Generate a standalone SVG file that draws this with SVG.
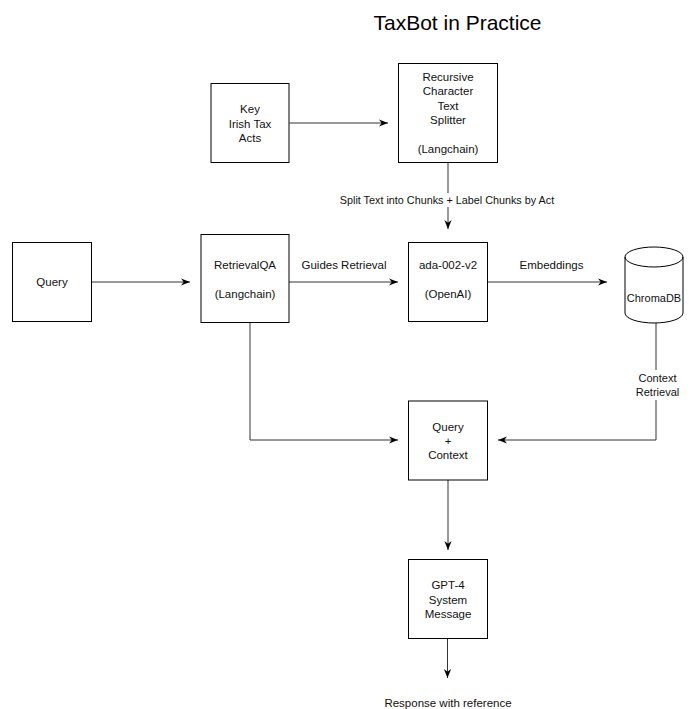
<svg xmlns="http://www.w3.org/2000/svg" width="693" height="709" viewBox="0 0 693 709">
  <defs>
    <marker id="arr" viewBox="0 0 10 10" refX="10" refY="5" markerWidth="9" markerHeight="9" markerUnits="userSpaceOnUse" orient="auto">
      <path d="M0,1 L10,5 L0,9 L3,5 z" fill="#000"/>
    </marker>
  </defs>
  <style>
    .box { fill: #fff; stroke: #000; stroke-width: 1; }
    .t { font-family: "Liberation Sans", Arial, sans-serif; font-size: 11.5px; fill: #111; text-anchor: middle; }
    .lbl { font-family: "Liberation Sans", Arial, sans-serif; font-size: 11px; fill: #111; text-anchor: middle; }
    .title { font-family: "Liberation Sans", Arial, sans-serif; font-size: 21px; fill: #000; text-anchor: middle; }
    .edge { fill: none; stroke: #333; stroke-width: 1; marker-end: url(#arr); }
  </style>
  <rect width="693" height="709" fill="#fff"/>
  <text class="title" x="457.5" y="30">TaxBot in Practice</text>

  <g id="connectors">
    <path class="edge" d="M289.5,123 L388,123"/>
    <path class="edge" d="M448,163 L448,229"/>
    <path class="edge" d="M92,282 L190,282"/>
    <path class="edge" d="M289,282 L398,282"/>
    <path class="edge" d="M487,282 L607,282"/>
    <path class="edge" d="M250,323 L250,440 L398,440"/>
    <path class="edge" d="M656,323 L656,440 L498,440"/>
    <path class="edge" d="M448,480 L448,550"/>
    <path class="edge" d="M447.5,639 L447.5,678"/>
    <rect x="337" y="193" width="220" height="14" fill="#fff"/>
    <text class="lbl" x="447" y="204" font-size="10.8" style="font-size:10.8px">Split Text into Chunks + Label Chunks by Act</text>
    <text class="t" x="344" y="269">Guides Retrieval</text>
    <text class="t" x="551.5" y="269">Embeddings</text>
    <rect x="632" y="370" width="52" height="30" fill="#fff"/>
    <text class="lbl" x="657.5" y="382">Context</text>
    <text class="lbl" x="657.5" y="395.5">Retrieval</text>
    <text class="t" x="448" y="707">Response with reference</text>
  </g>

  <g id="key-acts">
    <rect class="box" x="211" y="83.5" width="78" height="79"/>
    <text class="t" x="250" y="113">Key</text>
    <text class="t" x="250" y="127.5">Irish Tax</text>
    <text class="t" x="250" y="142">Acts</text>
  </g>

  <g id="splitter">
    <rect class="box" x="398.5" y="63.5" width="99" height="99"/>
    <text class="t" x="448" y="81">Recursive</text>
    <text class="t" x="448" y="95.4">Character</text>
    <text class="t" x="448" y="109.8">Text</text>
    <text class="t" x="448" y="124.2">Splitter</text>
    <text class="t" x="448" y="153">(Langchain)</text>
  </g>

  <g id="query">
    <rect class="box" x="12.5" y="242.5" width="79" height="79"/>
    <text class="t" x="52" y="286">Query</text>
  </g>

  <g id="retrievalqa">
    <rect class="box" x="201" y="234.5" width="88" height="88"/>
    <text class="t" x="245" y="269">RetrievalQA</text>
    <text class="t" x="245" y="298">(Langchain)</text>
  </g>

  <g id="ada">
    <rect class="box" x="408.5" y="242.5" width="79" height="79"/>
    <text class="t" x="448" y="269">ada-002-v2</text>
    <text class="t" x="448" y="298">(OpenAI)</text>
  </g>

  <g id="chromadb">
    <path class="box" d="M625,257 L625,313 A29,10 0 0 0 683,313 L683,257 A29,10 0 0 0 625,257 Z"/>
    <path d="M625,257 A29,10 0 0 0 683,257" fill="none" stroke="#000" stroke-width="1"/>
    <text class="lbl" x="654" y="302">ChromaDB</text>
  </g>

  <g id="query-context">
    <rect class="box" x="408.5" y="401" width="79" height="79"/>
    <text class="t" x="448" y="431">Query</text>
    <text class="t" x="448" y="445">+</text>
    <text class="t" x="448" y="459">Context</text>
  </g>

  <g id="gpt4">
    <rect class="box" x="408.5" y="559.5" width="79" height="79"/>
    <text class="t" x="448" y="589">GPT-4</text>
    <text class="t" x="448" y="603.5">System</text>
    <text class="t" x="448" y="618">Message</text>
  </g>
</svg>
